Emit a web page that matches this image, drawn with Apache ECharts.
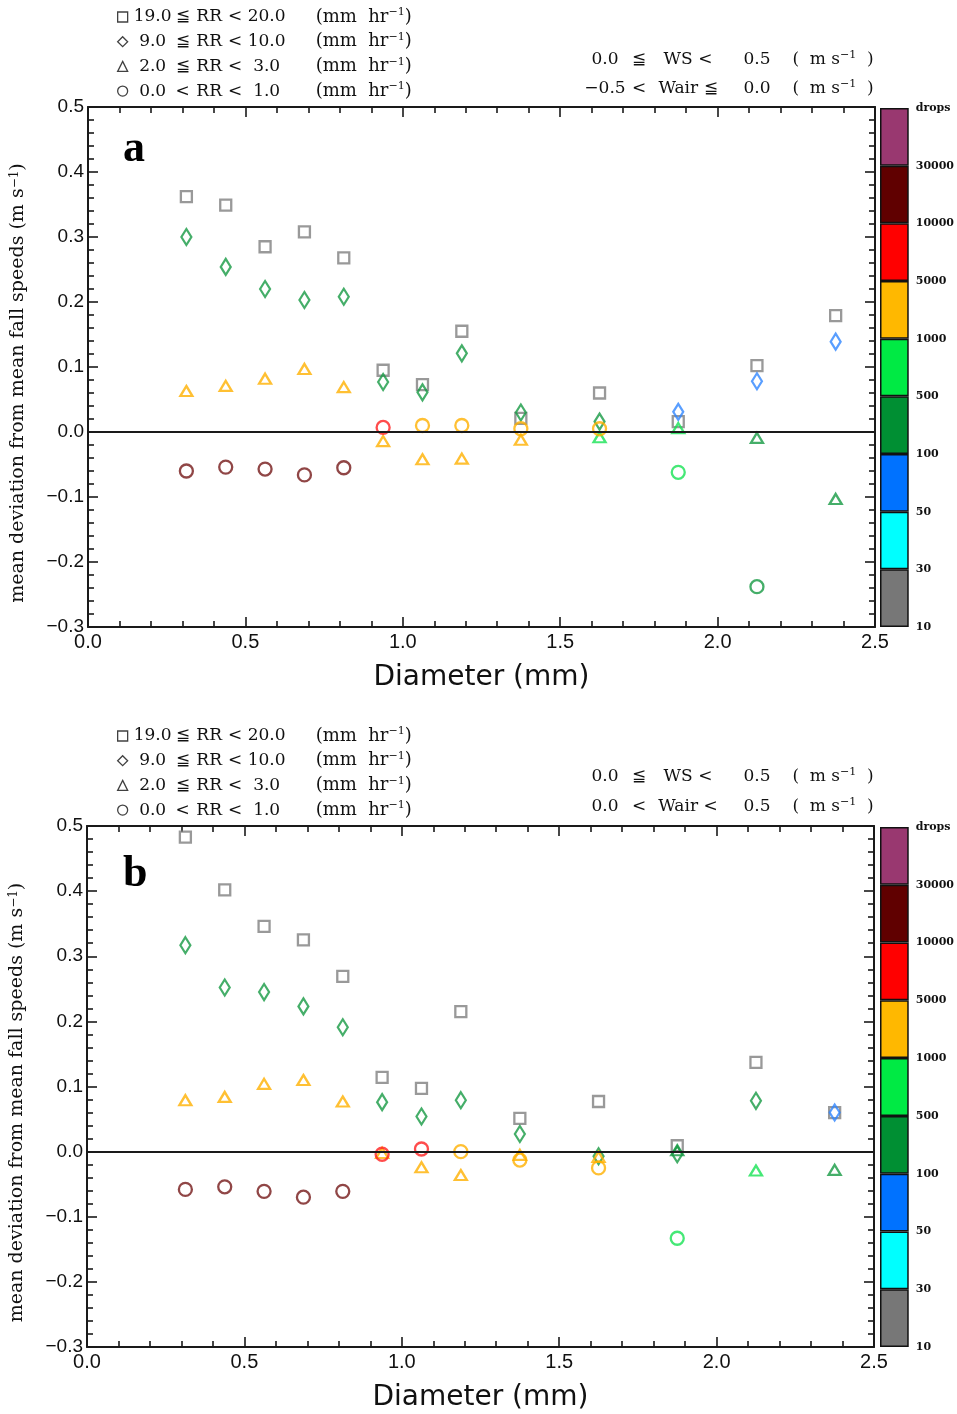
<!DOCTYPE html>
<html>
<head>
<meta charset="utf-8">
<title>Mean deviation from mean fall speeds</title>
<script src="https://cdn.jsdelivr.net/npm/echarts@6.0.0/dist/echarts.min.js"></script>
<style>
html, body { margin: 0; padding: 0; background: #ffffff; }
#chart { width: 957px; height: 1414px; }
</style>
</head>
<body>
<div id="chart"></div>
<script>
// bin centres (mm)
const diameters = [0.3125, 0.4375, 0.5625, 0.6875, 0.8125, 0.9375, 1.0625, 1.1875, 1.375, 1.625, 1.875, 2.125, 2.375]

// rain-rate classes
const rrNames = ['rr19', 'rr9', 'rr2', 'rr0']
const rrLow = ['19.0', '9.0', '2.0', '0.0']
const rrOp = ['≦', '≦', '≦', '<']
const rrHigh = ['20.0', '10.0', '3.0', '1.0']
const rrSymbols = ['rect', 'diamond', 'triangle', 'circle']

// panel a : 0.0 <= WS < 0.5, -0.5 < Wair <= 0.0
const aRR19 = [0.362, 0.349, 0.285, 0.308, 0.268, 0.095, 0.073, 0.155, 0.021, 0.060, 0.016, 0.102, 0.179]
const aRR19Bin = [0, 0, 0, 0, 0, 0, 0, 0, 0, 0, 0, 0, 0]
const aRR9 = [0.300, 0.254, 0.220, 0.203, 0.208, 0.077, 0.061, 0.121, 0.030, 0.016, 0.031, 0.078, 0.139]
const aRR9Bin = [3, 3, 3, 3, 3, 3, 3, 3, 3, 3, 2, 2, 2]
const aRR2 = [0.063, 0.071, 0.082, 0.097, 0.069, -0.014, -0.042, -0.041, -0.012, -0.008, 0.006, -0.009, -0.103]
const aRR2Bin = [5, 5, 5, 5, 5, 5, 5, 5, 5, 4, 4, 3, 3]
const aRR0 = [-0.060, -0.054, -0.057, -0.066, -0.055, 0.007, 0.010, 0.010, 0.005, 0.005, -0.062, -0.238, null]
const aRR0Bin = [7, 7, 7, 7, 7, 6, 5, 5, 5, 5, 4, 3, null]

// panel b : 0.0 <= WS < 0.5, 0.0 < Wair < 0.5
const bRR19 = [0.483, 0.402, 0.346, 0.325, 0.269, 0.114, 0.097, 0.215, 0.051, 0.077, 0.009, 0.137, 0.060]
const bRR19Bin = [0, 0, 0, 0, 0, 0, 0, 0, 0, 0, 0, 0, 0]
const bRR9 = [0.317, 0.252, 0.245, 0.223, 0.191, 0.076, 0.054, 0.079, 0.027, -0.007, -0.004, 0.078, 0.060]
const bRR9Bin = [3, 3, 3, 3, 3, 3, 3, 3, 3, 3, 3, 3, 2]
const bRR2 = [0.079, 0.084, 0.104, 0.110, 0.077, -0.002, -0.024, -0.036, -0.005, -0.008, 0.002, -0.029, -0.028]
const bRR2Bin = [5, 5, 5, 5, 5, 5, 5, 5, 5, 5, 3, 4, 3]
const bRR0 = [-0.058, -0.054, -0.061, -0.070, -0.061, -0.004, 0.004, 0.000, -0.013, -0.025, -0.133, null, null]
const bRR0Bin = [7, 7, 7, 7, 7, 6, 6, 5, 5, 5, 4, null, null]

// wind / air motion conditions
const wsRowsA = [['0.0', '≦', 'WS <', '0.5'], ['−0.5', '<', 'Wair ≦', '0.0']]
const wsRowsB = [['0.0', '≦', 'WS <', '0.5'], ['0.0', '<', 'Wair <', '0.5']]

// colour bar (number of drops)
const binLabels = ['10', '30', '50', '100', '500', '1000', '5000', '10000', '30000', 'drops']
const binColors = ['#777777', '#00ffff', '#0072ff', '#008f33', '#00ea44', '#ffb800', '#ff0000', '#600000', '#993870']
const markColors = ['#808080', '#00d8d8', '#2f86ff', '#169a44', '#17e254', '#ffb000', '#ff1f1f', '#741818', '#993870']

const SERIF = '"DejaVu Serif", "Liberation Serif", serif'
const SANS = '"Liberation Sans", Arial, sans-serif'
const AXIS_COLOR = '#1a1a1a'
const symbolSizes = [11, [10, 16], [12, 10], 13]

const panels = [
  { rr: [aRR19, aRR9, aRR2, aRR0], bins: [aRR19Bin, aRR9Bin, aRR2Bin, aRR0Bin] },
  { rr: [bRR19, bRR9, bRR2, bRR0], bins: [bRR19Bin, bRR9Bin, bRR2Bin, bRR0Bin] }
]

function fmtTick(v) {
  const s = Math.abs(v).toFixed(1)
  return v < -1e-9 ? '−' + s : s
}

function frameAxis(extra) {
  return Object.assign({
    type: 'value',
    axisLine: { show: true, onZero: false, lineStyle: { color: AXIS_COLOR, width: 2 } },
    axisTick: { show: true, inside: true, length: 10, lineStyle: { color: AXIS_COLOR, width: 1.6 } },
    minorTick: { show: true, splitNumber: 5, length: 6, lineStyle: { color: AXIS_COLOR, width: 1.6 } },
    splitLine: { show: false },
    minorSplitLine: { show: false }
  }, extra)
}

function panelXAxes(gridIndex) {
  const range = { gridIndex, min: 0, max: 2.5, interval: 0.5 }
  return [
    frameAxis(Object.assign({}, range, {
      position: 'bottom',
      axisLabel: { formatter: fmtTick, fontFamily: SANS, fontSize: 20, color: '#111', margin: 5 },
      name: 'Diameter (mm)',
      nameLocation: 'middle',
      nameGap: 37,
      nameTextStyle: { fontFamily: '"DejaVu Sans", sans-serif', fontSize: 28, color: '#111' }
    })),
    frameAxis(Object.assign({}, range, { position: 'top', axisLabel: { show: false } }))
  ]
}

function panelYAxes(gridIndex) {
  const range = { gridIndex, min: -0.3, max: 0.5, interval: 0.1 }
  return [
    frameAxis(Object.assign({}, range, {
      position: 'left',
      axisLabel: { formatter: fmtTick, fontFamily: SANS, fontSize: 19, color: '#111', margin: 4 },
      name: 'mean deviation from mean fall speeds (m s{sup|−1})',
      nameLocation: 'middle',
      nameGap: 60,
      nameTextStyle: {
        fontFamily: SERIF, fontSize: 19, color: '#111',
        padding: [0, 32, 0, 0],
        rich: { sup: { fontFamily: SERIF, fontSize: 12, verticalAlign: 'top', color: '#111' } }
      }
    })),
    frameAxis(Object.assign({}, range, { position: 'right', axisLabel: { show: false } }))
  ]
}

function scatterSeries(panel, k) {
  const ys = panels[panel].rr[k]
  const bins = panels[panel].bins[k]
  const data = []
  ys.forEach((y, j) => {
    if (y === null) return
    data.push({ value: [diameters[j], y], itemStyle: { borderColor: markColors[bins[j]] } })
  })
  const s = {
    name: rrNames[k],
    type: 'scatter',
    xAxisIndex: panel * 2,
    yAxisIndex: panel * 2,
    symbol: rrSymbols[k],
    symbolSize: symbolSizes[k],
    itemStyle: { color: 'transparent', borderColor: '#888', borderWidth: 2.3 },
    silent: true,
    data
  }
  if (k === 0) {
    s.markLine = {
      silent: true,
      symbol: ['none', 'none'],
      label: { show: false },
      lineStyle: { color: AXIS_COLOR, width: 2, type: 'solid' },
      data: [{ yAxis: 0 }]
    }
  }
  return s
}

function colorbarSeries(i) {
  return {
    type: 'bar',
    xAxisIndex: 4 + i,
    yAxisIndex: 4 + i * 2,
    barWidth: '100%',
    silent: true,
    data: binColors.map((c) => ({ value: 1, itemStyle: { color: c, borderColor: '#111', borderWidth: 1.5 } }))
  }
}

function colorbarAxes(gridIndex) {
  return {
    x: { type: 'value', gridIndex, min: 0, max: 1, show: false },
    y: [
      { type: 'category', gridIndex, data: binColors.map((c, i) => String(i)), show: false },
      {
        type: 'value', gridIndex, min: 0, max: 9, interval: 1, position: 'right',
        axisLine: { show: false }, axisTick: { show: false }, splitLine: { show: false },
        axisLabel: {
          formatter: (v) => binLabels[Math.round(v)],
          fontFamily: SERIF, fontWeight: 'bold', fontSize: 11, color: '#111', margin: 7
        }
      }
    ]
  }
}

function richToken(extra) {
  return Object.assign({ fontFamily: SERIF, fontSize: 17, fontWeight: 'normal', lineHeight: 20, color: '#111' }, extra)
}

const legendRich = {
  lo: richToken({ width: 40, align: 'right' }),
  op: richToken({ width: 20, align: 'center' }),
  rr: richToken({ width: 33, align: 'center' }),
  op2: richToken({ width: 19, align: 'center' }),
  hi: richToken({ width: 44, align: 'right' }),
  sp: richToken({ width: 27 }),
  u: richToken({ fontSize: 18 }),
  sup: richToken({ fontSize: 11, lineHeight: 12, verticalAlign: 'top' })
}

function legendText(name) {
  const i = rrNames.indexOf(name)
  return `{lo|${rrLow[i]}}{op|${rrOp[i]}}{rr|RR}{op2|<}{hi|${rrHigh[i]}}{sp| }{u|(mm  hr}{sup|−1}{u|)}`
}

function panelLegend(top) {
  return {
    orient: 'vertical',
    left: 117,
    top,
    padding: 0,
    itemGap: 5.7,
    itemWidth: 10,
    itemHeight: 10,
    selectedMode: false,
    data: rrNames.map((n, k) => ({ name: n, icon: rrSymbols[k] })),
    itemStyle: { color: 'transparent', borderColor: '#111', borderWidth: 1.3 },
    formatter: legendText,
    textStyle: { fontFamily: SERIF, fontSize: 17, color: '#111', rich: legendRich }
  }
}

const wsRich = {
  a: richToken({ width: 48, align: 'right' }),
  b: richToken({ width: 20, align: 'center' }),
  c: richToken({ width: 78, align: 'right' }),
  d: richToken({ width: 60, align: 'right' }),
  e: richToken({}),
  s: richToken({ fontSize: 11, lineHeight: 12, verticalAlign: 'top' })
}

function wsTitle(row, top) {
  return {
    text: `{a|${row[0]}}{b|${row[1]}}{c|${row[2]}}{d|${row[3]}}{e| (  m s}{s|−1}{e|  )}`,
    left: 581,
    top,
    padding: 0,
    textStyle: { fontFamily: SERIF, fontSize: 17, fontWeight: 'normal', color: '#111', rich: wsRich }
  }
}

function letterTitle(text, top) {
  return {
    text, left: 123, top, padding: 0,
    textStyle: { fontFamily: '"Liberation Serif", serif', fontWeight: 'bold', fontSize: 44, color: '#000' }
  }
}

const cbA = colorbarAxes(2)
const cbB = colorbarAxes(3)

const option = {
  animation: false,
  backgroundColor: '#ffffff',
  title: [
    letterTitle('a', 128),
    letterTitle('b', 853),
    wsTitle(wsRowsA[0], 50),
    wsTitle(wsRowsA[1], 79),
    wsTitle(wsRowsB[0], 767),
    wsTitle(wsRowsB[1], 797)
  ],
  legend: [panelLegend(7), panelLegend(726)],
  grid: [
    { left: 88, top: 107, width: 787, height: 520 },
    { left: 87, top: 826, width: 787, height: 521 },
    { left: 880, top: 108, width: 31, height: 519 },
    { left: 880, top: 827, width: 31, height: 520 }
  ],
  xAxis: [...panelXAxes(0), ...panelXAxes(1), cbA.x, cbB.x],
  yAxis: [...panelYAxes(0), ...panelYAxes(1), ...cbA.y, ...cbB.y],
  series: [
    ...[0, 1, 2, 3].map((k) => scatterSeries(0, k)),
    ...[0, 1, 2, 3].map((k) => scatterSeries(1, k)),
    colorbarSeries(0),
    colorbarSeries(1)
  ]
}

const chart = echarts.init(document.getElementById('chart'))
chart.setOption(option)
</script>
</body>
</html>
